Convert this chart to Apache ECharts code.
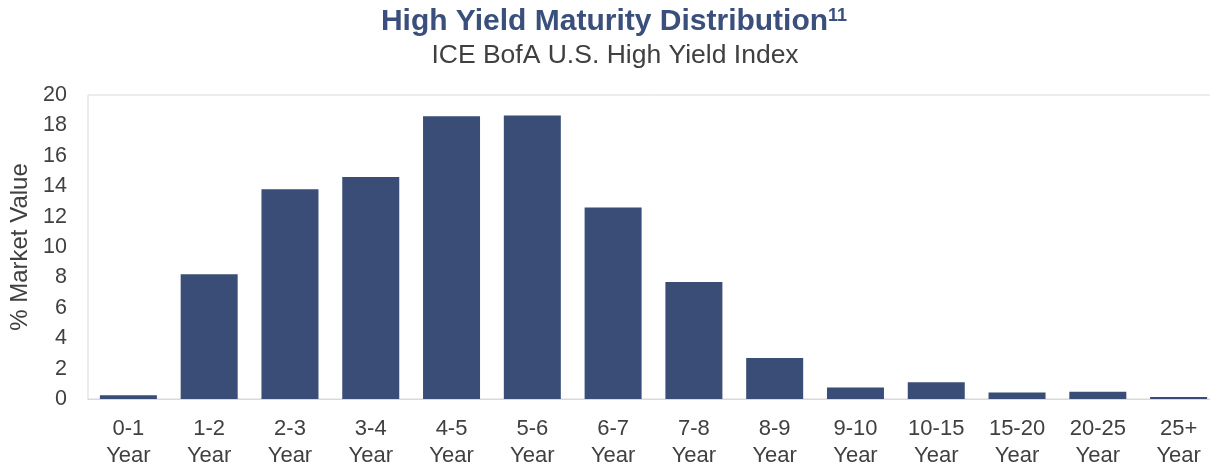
<!DOCTYPE html>
<html>
<head>
<meta charset="utf-8">
<script src="https://cdn.jsdelivr.net/npm/echarts@6/dist/echarts.min.js"></script>
<style>
html,body{margin:0;padding:0;background:#fff;}
#chart{width:1210px;height:465px;}
</style>
</head>
<body>
<div id="chart"></div>
<script>
const categories = ['0-1\nYear','1-2\nYear','2-3\nYear','3-4\nYear','4-5\nYear','5-6\nYear','6-7\nYear','7-8\nYear','8-9\nYear','9-10\nYear','10-15\nYear','15-20\nYear','20-25\nYear','25+\nYear'];
const marketValue = [0.25, 8.2, 13.8, 14.6, 18.6, 18.65, 12.6, 7.7, 2.7, 0.75, 1.1, 0.42, 0.48, 0.13];
const titleText = 'High Yield Maturity Distribution';
const titleSup = '11';
const subtitleText = 'ICE BofA U.S. High Yield Index';

const FONT = 'Liberation Sans, Arial, sans-serif';
const chart = echarts.init(document.getElementById('chart'));
chart.setOption({
  animation: false,
  backgroundColor: '#ffffff',
  graphic: [{
    type: 'text',
    x: 614, y: 22,
    style: {
      text: '{a|' + titleText + '}{s|' + titleSup + '}',
      align: 'center',
      verticalAlign: 'middle',
      rich: {
        a: { fontFamily: FONT, fontWeight: 'bold', fontSize: 30, fill: '#3a4f7b', lineHeight: 30 },
        s: { fontFamily: FONT, fontWeight: 'bold', fontSize: 18, fill: '#3a4f7b', padding: [0, 0, 12, 0] }
      }
    }
  }, {
    type: 'text',
    x: 615, y: 56,
    style: {
      text: subtitleText,
      align: 'center',
      verticalAlign: 'middle',
      fontFamily: FONT, fontSize: 26.5, fill: '#404040'
    }
  }],
  grid: { left: 88, top: 95, bottom: 66, width: 1131, show: true, borderColor: '#d9d9d9', borderWidth: 1, containLabel: false, outerBoundsMode: 'none' },
  xAxis: {
    type: 'category',
    data: categories,
    axisLine: { show: true, lineStyle: { color: '#d9d9d9', width: 1 } },
    axisTick: { show: false },
    axisLabel: { interval: 0, margin: 16, fontFamily: FONT, fontSize: 22, color: '#404040', lineHeight: 27.5 }
  },
  yAxis: {
    type: 'value',
    min: 0, max: 20, interval: 2,
    name: '% Market Value',
    nameLocation: 'middle',
    nameGap: 55,
    nameRotate: 90,
    nameTextStyle: { fontFamily: FONT, fontSize: 24, color: '#404040' },
    axisLine: { show: false },
    axisTick: { show: false },
    splitLine: { show: false },
    axisLabel: { margin: 21, fontFamily: FONT, fontSize: 21.5, color: '#404040' }
  },
  series: [{
    type: 'bar',
    data: marketValue,
    barWidth: 57,
    itemStyle: { color: '#394d76' }
  }]
});
</script>
</body>
</html>
